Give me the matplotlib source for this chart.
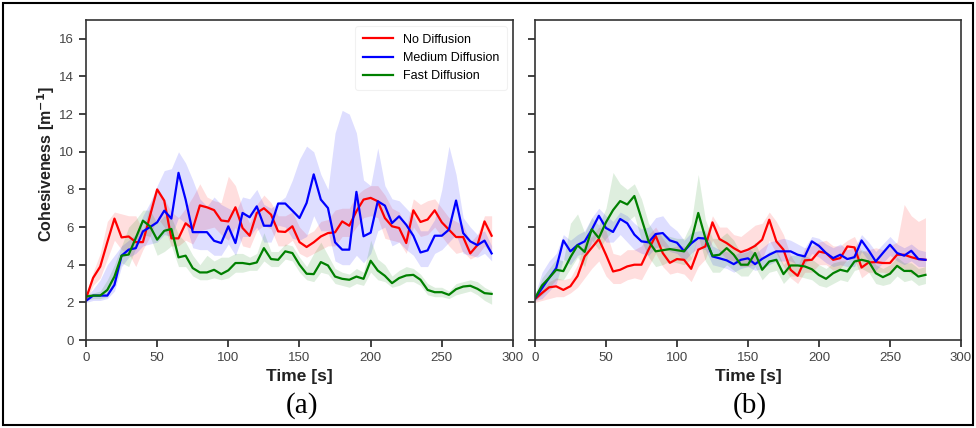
#importing required
import numpy as np
import matplotlib
matplotlib.use('Agg')
import matplotlib.pyplot as plt
from matplotlib.patches import Rectangle

plt.rcParams['font.family'] = ['Liberation Sans', 'DejaVu Sans']

#time axis (5 s steps)
t_a = np.arange(0, 290, 5)
t_b = np.arange(0, 280, 5)

#panel (a): mean values
red_a = [2.2, 3.3, 3.9, 5.2, 6.45, 5.45, 5.5, 5.2, 5.2, 6.6, 8.0, 7.4, 5.4, 5.4, 6.2, 5.9, 7.15, 7.05, 6.9, 6.35,
         6.3, 7.05, 5.95, 5.54, 6.75, 7.0, 6.66, 5.77, 5.74, 6.04, 5.2, 4.94, 5.19, 5.5, 5.68, 5.72, 6.3, 6.07, 6.84, 7.46,
         7.55, 7.37, 6.48, 6.04, 5.95, 5.15, 6.89, 6.27, 6.4, 6.89, 6.25, 5.86, 5.47, 5.47, 4.6, 5.04, 6.3, 5.54]
blue_a = [2.08, 2.36, 2.36, 2.36, 2.93, 4.48, 4.8, 4.88, 5.77, 6.0, 6.25, 6.87, 6.45, 8.88, 7.46, 5.73, 5.73, 5.73, 5.27, 5.15,
          6.04, 5.15, 6.75, 6.52, 7.1, 6.07, 6.07, 7.25, 7.25, 6.87, 6.48, 7.28, 8.8, 7.46, 7.01, 5.19, 4.8, 4.8, 7.87, 5.51,
          5.7, 7.37, 7.14, 6.21, 6.57, 6.12, 5.54, 4.65, 4.76, 5.54, 5.54, 5.86, 7.41, 5.68, 5.24, 5.04, 5.28, 4.6]
green_a = [2.31, 2.36, 2.36, 2.66, 3.37, 4.48, 4.54, 5.42, 6.34, 6.04, 5.33, 5.8, 5.9, 4.39, 4.48, 3.82, 3.59, 3.59, 3.73, 3.5,
           3.7, 4.09, 4.09, 4.03, 4.12, 4.88, 4.3, 4.26, 4.71, 4.62, 4.0, 3.52, 3.5, 4.14, 3.96, 3.37, 3.25, 3.2, 3.37, 3.25,
           4.21, 3.69, 3.41, 3.02, 3.29, 3.43, 3.46, 3.2, 2.66, 2.54, 2.54, 2.4, 2.7, 2.84, 2.88, 2.72, 2.49, 2.45]

#panel (a): shaded band limits
red_a_lo = [2.0, 2.9, 3.3, 4.3, 5.3, 4.8, 4.6, 3.9, 4.8, 5.5, 6.5, 6.0, 5.0, 5.0, 5.3, 5.1, 5.8, 5.9, 6.0, 5.6,
            5.3, 6.0, 5.0, 4.9, 5.8, 6.1, 5.9, 5.0, 5.0, 5.3, 4.6, 4.4, 4.6, 4.8, 5.0, 5.0, 5.5, 5.5, 6.0, 6.5,
            6.6, 6.5, 5.4, 5.3, 5.2, 4.6, 6.0, 5.5, 5.6, 6.0, 5.5, 5.0, 4.6, 4.7, 4.3, 4.5, 5.0, 4.6]
red_a_hi = [2.4, 3.6, 4.6, 6.3, 6.8, 6.7, 6.6, 6.6, 5.8, 7.2, 8.1, 7.5, 6.8, 6.5, 7.0, 7.6, 8.3, 7.6, 7.4, 7.3,
            8.7, 8.2, 7.0, 6.2, 7.2, 7.7, 7.3, 6.6, 6.6, 6.8, 6.0, 5.6, 5.8, 6.3, 6.4, 6.9, 7.0, 7.0, 7.7, 8.0,
            8.2, 8.2, 7.7, 7.0, 6.8, 6.0, 7.5, 7.2, 7.4, 7.5, 7.0, 6.5, 6.3, 6.1, 5.2, 5.6, 6.6, 6.6]
blue_a_lo = [2.0, 2.1, 2.1, 2.2, 2.6, 3.9, 4.4, 4.6, 5.0, 5.1, 5.2, 5.6, 5.5, 6.5, 6.2, 4.9, 4.8, 4.8, 4.5, 4.5,
             5.1, 4.5, 5.5, 5.5, 6.0, 5.2, 5.2, 6.1, 6.0, 5.4, 5.3, 5.5, 6.6, 5.8, 5.8, 4.2, 4.0, 4.0, 4.5, 4.1,
             4.6, 5.8, 6.0, 5.0, 5.2, 4.8, 4.5, 3.9, 3.9, 4.6, 4.8, 5.2, 5.6, 4.6, 4.5, 4.4, 4.6, 4.2]
blue_a_hi = [2.3, 2.7, 3.2, 4.0, 4.5, 5.0, 5.3, 5.6, 6.6, 7.3, 8.2, 9.0, 9.1, 10.0, 9.4, 8.5, 7.5, 7.1, 7.6, 7.2,
             7.0, 6.8, 7.6, 7.5, 8.0, 7.2, 7.0, 7.3, 7.6, 8.5, 9.6, 10.3, 10.0, 8.8, 8.0, 11.0, 12.2, 12.0, 11.0, 8.5,
             8.2, 10.2, 8.2, 7.5, 7.4, 7.0, 6.6, 5.8, 5.8, 6.4, 8.0, 10.3, 8.8, 6.5, 6.0, 5.6, 5.8, 5.0]
green_a_lo = [2.1, 2.2, 2.2, 2.3, 2.9, 4.1, 3.9, 4.9, 5.6, 5.5, 4.5, 4.7, 5.0, 3.9, 3.9, 3.4, 3.2, 3.2, 3.3, 3.2,
              3.3, 3.6, 3.6, 3.7, 3.7, 4.2, 3.9, 3.9, 4.3, 4.2, 3.6, 3.2, 3.1, 3.6, 3.5, 3.0, 2.9, 2.8, 3.0, 2.9,
              3.6, 3.2, 3.1, 2.8, 2.9, 3.1, 3.1, 2.9, 2.4, 2.3, 2.3, 2.2, 2.4, 2.5, 2.6, 2.4, 2.1, 1.9]
green_a_hi = [2.4, 2.5, 2.6, 3.2, 4.0, 5.0, 6.0, 6.4, 6.9, 6.9, 6.2, 6.6, 6.5, 5.6, 5.2, 4.5, 4.0, 4.5, 4.2, 4.4,
              4.4, 4.6, 4.6, 4.4, 4.6, 5.7, 4.7, 4.7, 5.1, 5.0, 4.4, 3.9, 4.6, 5.2, 4.5, 3.8, 3.6, 3.5, 3.8, 3.6,
              5.3, 4.3, 4.0, 3.4, 3.7, 3.9, 3.8, 3.5, 3.0, 2.8, 2.8, 2.6, 3.0, 3.1, 3.2, 3.1, 2.8, 2.6]

#panel (b): mean values
red_b = [2.17, 2.5, 2.8, 2.85, 2.66, 2.86, 3.4, 4.44, 4.9, 5.36, 4.53, 3.64, 3.73, 3.91, 4.0, 4.0, 4.8, 5.54, 4.62, 4.1,
         4.3, 4.26, 3.78, 4.8, 4.97, 6.25, 5.36, 5.15, 4.88, 4.67, 4.8, 5.0, 5.33, 6.39, 5.24, 4.8, 3.73, 3.41, 4.23, 4.26,
         4.7, 4.62, 4.26, 4.35, 4.97, 4.92, 3.85, 4.12, 4.14, 4.09, 4.09, 4.53, 4.53, 4.4, 4.3, 4.26]
blue_b = [2.2, 2.75, 3.3, 3.82, 5.29, 4.71, 5.05, 5.24, 5.86, 6.6, 5.95, 5.74, 6.43, 6.2, 5.6, 5.24, 5.19, 5.63, 5.68, 5.29,
          5.17, 4.72, 5.13, 5.42, 5.39, 4.44, 4.34, 4.23, 4.03, 4.26, 4.34, 4.03, 4.31, 4.53, 4.71, 4.71, 4.71, 4.53, 4.44, 5.24,
          5.0, 4.62, 4.35, 4.53, 4.3, 4.4, 5.29, 4.76, 4.17, 4.62, 5.06, 4.62, 4.48, 4.74, 4.3, 4.26]
green_b = [2.22, 2.9, 3.3, 3.73, 3.66, 4.4, 5.03, 4.68, 5.88, 5.42, 6.25, 6.9, 7.38, 7.2, 7.65, 6.45, 5.25, 4.71, 4.77, 4.83,
           4.77, 4.71, 5.24, 6.75, 5.42, 4.48, 4.53, 4.88, 4.53, 4.0, 4.0, 4.62, 3.73, 4.17, 4.26, 3.5, 3.96, 3.96, 3.91, 3.76,
           3.45, 3.25, 3.55, 3.73, 3.64, 4.17, 4.26, 4.17, 3.55, 3.34, 3.52, 3.94, 3.67, 3.67, 3.37, 3.46]

#panel (b): shaded band limits
red_b_lo = [2.0, 2.1, 2.2, 2.3, 2.3, 2.5, 2.8, 3.3, 3.8, 4.2, 3.4, 3.0, 3.0, 3.2, 3.3, 3.2, 3.9, 4.6, 3.9, 3.5,
            3.6, 3.5, 3.1, 3.9, 4.3, 5.3, 4.7, 4.3, 4.2, 3.9, 3.9, 4.0, 4.3, 5.3, 4.6, 3.9, 3.3, 3.0, 3.6, 3.6,
            4.0, 4.0, 3.7, 3.8, 4.3, 4.3, 3.3, 3.6, 3.6, 3.6, 3.5, 3.9, 3.8, 3.5, 3.5, 3.5]
red_b_hi = [2.3, 2.7, 3.1, 3.3, 3.2, 3.3, 4.0, 5.2, 5.5, 6.0, 5.8, 4.6, 4.5, 4.8, 4.8, 5.0, 5.6, 6.0, 5.4, 4.9,
            5.0, 5.0, 4.4, 5.5, 5.5, 6.6, 6.0, 6.0, 5.6, 5.5, 5.8, 6.1, 6.2, 6.8, 6.3, 5.6, 4.5, 3.9, 4.9, 5.0,
            5.2, 5.3, 5.0, 5.0, 5.3, 5.5, 4.7, 4.8, 4.9, 4.8, 5.0, 5.2, 7.2, 6.6, 6.3, 6.5]
blue_b_lo = [2.1, 2.2, 2.6, 3.0, 4.3, 4.0, 4.5, 4.6, 5.1, 5.7, 5.2, 5.2, 5.6, 5.2, 4.8, 4.6, 4.5, 4.9, 5.0, 4.7,
             4.6, 4.2, 4.6, 4.9, 4.8, 4.0, 3.9, 3.8, 3.6, 3.8, 3.9, 3.7, 3.8, 4.0, 4.2, 4.2, 4.2, 4.0, 4.0, 4.6,
             4.4, 4.1, 3.9, 4.0, 3.9, 3.9, 4.7, 4.2, 3.7, 4.1, 4.5, 4.2, 4.0, 4.2, 3.9, 3.9]
blue_b_hi = [2.4, 3.6, 4.2, 4.6, 5.6, 5.3, 5.6, 5.8, 6.5, 7.0, 6.6, 6.3, 6.8, 6.6, 6.2, 5.9, 6.0, 6.5, 6.6, 6.1,
             5.8, 5.3, 5.7, 5.8, 5.8, 5.0, 4.8, 4.7, 4.5, 4.7, 4.9, 4.6, 4.9, 5.2, 5.3, 5.4, 5.3, 5.1, 4.9, 5.5,
             5.4, 5.1, 4.9, 5.1, 4.8, 4.9, 5.6, 5.2, 4.7, 5.1, 5.5, 5.1, 4.9, 5.1, 4.8, 4.7]
green_b_lo = [2.1, 2.4, 2.8, 3.2, 3.2, 3.8, 4.4, 3.9, 5.3, 4.8, 5.4, 5.8, 6.5, 6.3, 6.6, 5.3, 4.4, 3.9, 4.0, 4.2,
              4.1, 4.0, 4.3, 5.5, 4.2, 3.6, 3.6, 4.0, 3.7, 3.4, 3.4, 3.9, 3.2, 3.6, 3.7, 3.0, 3.4, 3.4, 3.3, 3.2,
              2.9, 2.8, 3.0, 3.2, 3.1, 3.7, 3.8, 3.6, 3.0, 2.9, 3.0, 3.4, 3.1, 3.2, 2.9, 3.0]
green_b_hi = [2.3, 3.3, 3.8, 4.3, 4.2, 6.2, 6.7, 5.7, 6.5, 6.1, 7.0, 8.9, 8.3, 8.0, 8.3, 7.5, 6.2, 5.6, 5.6, 5.5,
              5.4, 5.4, 6.2, 8.8, 6.4, 5.4, 5.4, 5.7, 5.3, 4.6, 4.7, 5.2, 4.3, 4.7, 4.8, 4.0, 4.5, 4.5, 4.5, 4.3,
              4.0, 3.8, 4.1, 4.2, 4.2, 4.6, 4.8, 4.6, 4.0, 3.8, 4.0, 4.4, 4.1, 4.1, 3.8, 3.9]

labels = ['No Diffusion', 'Medium Diffusion', 'Fast Diffusion']
colors = ['red', 'blue', 'green']

fig = plt.figure(figsize=(9.76, 4.28), dpi=100)
ax1 = fig.add_axes([0.0881, 0.2056, 0.4375, 0.7477])
ax2 = fig.add_axes([0.5481, 0.2056, 0.4365, 0.7477])

panel_a = [(red_a, red_a_lo, red_a_hi), (blue_a, blue_a_lo, blue_a_hi), (green_a, green_a_lo, green_a_hi)]
panel_b = [(red_b, red_b_lo, red_b_hi), (blue_b, blue_b_lo, blue_b_hi), (green_b, green_b_lo, green_b_hi)]

for ax, t, series in [(ax1, t_a, panel_a), (ax2, t_b, panel_b)]:
    for (m, lo, hi), c in zip(series, colors):
        ax.fill_between(t, lo, hi, color=c, alpha=0.13, linewidth=0)
    for (m, lo, hi), c, lab in zip(series, colors, labels):
        ax.plot(t, m, color=c, lw=1.6, label=lab)
    ax.set_xlim(0, 300)
    ax.set_ylim(0, 17)
    ax.set_xticks(range(0, 301, 50))
    ax.set_yticks(range(0, 17, 2))
    ax.tick_params(direction='out', length=5, width=1.3, colors='#333333', labelsize=9.5, labelcolor='#444444')
    for s in ax.spines.values():
        s.set_color('#333333')
        s.set_linewidth(1.2)
    ax.set_xlabel('Time [s]', fontsize=12.5, fontweight='bold', color='#222222', labelpad=4)

ax2.set_yticklabels([])
ax1.set_ylabel('Cohesiveness [m$^{\\mathbf{-1}}$]', fontsize=11.5, fontweight='bold', color='#222222')
ax1.yaxis.set_label_coords(-0.068, 0.55)

leg = ax1.legend(loc='upper right', fontsize=9, frameon=True, handlelength=2.4, borderpad=0.6, labelspacing=0.5)
leg.get_frame().set_edgecolor('#eeeeee')
leg.get_frame().set_linewidth(0.8)

fig.text(0.309, 0.053, '(a)', fontsize=21, family=['Liberation Serif', 'DejaVu Serif'], ha='center', va='center')
fig.text(0.768, 0.053, '(b)', fontsize=21, family=['Liberation Serif', 'DejaVu Serif'], ha='center', va='center')

#outer frame
fig.patches.append(Rectangle((0.003, 0.006), 0.994, 0.988, transform=fig.transFigure,
                             fill=False, edgecolor='black', linewidth=1.5))

plt.savefig('out.png', dpi=100)
